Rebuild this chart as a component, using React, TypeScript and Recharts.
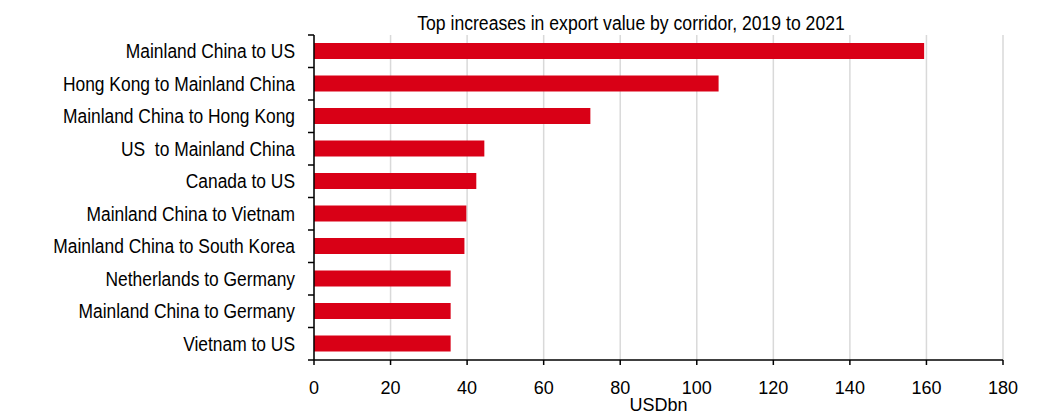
import { BarChart, Bar, XAxis, YAxis, CartesianGrid, Label } from "recharts";

const corridors = [
  "Mainland China to US",
  "Hong Kong to Mainland China",
  "Mainland China to Hong Kong",
  "US  to Mainland China",
  "Canada to US",
  "Mainland China to Vietnam",
  "Mainland China to South Korea",
  "Netherlands to Germany",
  "Mainland China to Germany",
  "Vietnam to US",
];
const increase = [159.4, 105.7, 72.2, 44.5, 42.4, 39.8, 39.3, 35.7, 35.7, 35.7];
const xTicks = [0, 20, 40, 60, 80, 100, 120, 140, 160, 180];

const data = corridors.map((name, i) => ({ name, value: increase[i] }));

const FONT = "'Liberation Sans', Arial, sans-serif";
const Y_TICK_SIZE = 6;
const Y_TICK_MARGIN = 13;

// category labels + tick marks on the band boundaries (not centres)
const CategoryTick = (props: any) => {
  const { x, y, payload, index, visibleTicksCount } = props;
  const half = payload.offset ?? 0;
  const axisX = x + Y_TICK_SIZE + Y_TICK_MARGIN;
  const isLast = index === visibleTicksCount - 1;
  return (
    <g>
      <line x1={axisX - Y_TICK_SIZE} x2={axisX} y1={y - half} y2={y - half} stroke="#000" strokeWidth={1.5} />
      {isLast && (
        <line x1={axisX - Y_TICK_SIZE} x2={axisX} y1={y + half} y2={y + half} stroke="#000" strokeWidth={1.5} />
      )}
      <text
        transform={`translate(${x},${y}) scale(0.87,1)`}
        textAnchor="end"
        dy="0.36em"
        fill="#000"
        fontSize={20}
        fontFamily={FONT}
        style={{ whiteSpace: "pre" }}
      >
        {payload.value}
      </text>
    </g>
  );
};

export default function App() {
  return (
    <div style={{ position: "absolute", left: 0, top: 0, width: 1037, height: 414, background: "#fff", fontFamily: FONT }}>
      <div
        style={{
          position: "absolute",
          top: 11,
          left: 631,
          transform: "translateX(-50%) scaleX(0.88)",
          whiteSpace: "nowrap",
          fontSize: 20,
          color: "#000",
          lineHeight: "24px",
        }}
      >
        Top increases in export value by corridor, 2019 to 2021
      </div>
      <BarChart
        width={1037}
        height={414}
        data={data}
        layout="vertical"
        margin={{ top: 35, right: 34, bottom: 0, left: 0 }}
      >
        <CartesianGrid horizontal={false} stroke="#d9d9d9" strokeWidth={1.5} />
        <YAxis
          type="category"
          dataKey="name"
          width={314}
          tickLine={false}
          tickSize={Y_TICK_SIZE}
          tickMargin={Y_TICK_MARGIN}
          axisLine={{ stroke: "#000", strokeWidth: 1.5 }}
          tick={<CategoryTick />}
          interval={0}
        />
        <XAxis
          type="number"
          domain={[0, 180]}
          ticks={xTicks}
          height={54}
          tickSize={5}
          tickMargin={16}
          tickLine={{ stroke: "#000", strokeWidth: 1.5 }}
          axisLine={{ stroke: "#000", strokeWidth: 1.5 }}
          tick={{ fill: "#000", fontSize: 18, fontFamily: FONT }}
        >
          <Label value="USDbn" position="insideBottom" offset={3} fill="#000" fontSize={18} fontFamily={FONT} />
        </XAxis>
        <Bar dataKey="value" fill="#d90016" barSize={16} isAnimationActive={false} />
      </BarChart>
    </div>
  );
}
